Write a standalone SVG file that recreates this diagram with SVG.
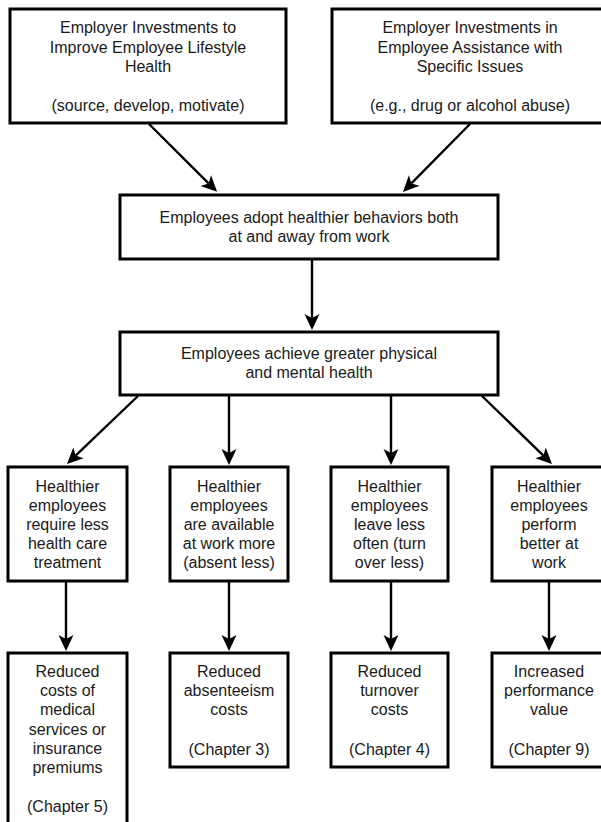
<svg xmlns="http://www.w3.org/2000/svg" width="601" height="822" viewBox="0 0 601 822">
<style>
.box{fill:#fff;stroke:#000;stroke-width:3}
.t{font-family:"Liberation Sans",Arial,Helvetica,sans-serif;font-size:16px;fill:#1a1a1a;text-anchor:middle}
.c{stroke:#000;stroke-width:2.4;fill:none;marker-end:url(#ah)}
</style>
<defs>
<marker id="ah" markerUnits="userSpaceOnUse" markerWidth="17" markerHeight="15" refX="4" refY="7.5" orient="auto" overflow="visible">
<path d="M0,0 L16,7.5 L0,15 L4,7.5 z" fill="#000"/>
</marker>
</defs>
<rect width="601" height="822" fill="#fff"/>
<g id="connectors">
<line class="c" x1="149" y1="124" x2="208.6" y2="183.4"/>
<line class="c" x1="470" y1="124" x2="411.4" y2="183.4"/>
<line class="c" x1="312" y1="260" x2="312" y2="318"/>
<line class="c" x1="138" y1="396" x2="75.6" y2="455.6"/>
<line class="c" x1="229" y1="396" x2="229" y2="453"/>
<line class="c" x1="391" y1="396" x2="391" y2="453"/>
<line class="c" x1="482" y1="396" x2="543.4" y2="455.6"/>
<line class="c" x1="66" y1="582" x2="66" y2="639"/>
<line class="c" x1="229" y1="582" x2="229" y2="639"/>
<line class="c" x1="391" y1="582" x2="391" y2="639"/>
<line class="c" x1="549" y1="582" x2="549" y2="639"/>
</g>
<g id="top-left">
<rect class="box" x="10" y="9" width="276" height="114"/>
<text class="t" x="148" y="33">Employer Investments to</text>
<text class="t" x="148" y="52.5">Improve Employee Lifestyle</text>
<text class="t" x="148" y="72">Health</text>
<text class="t" x="148" y="111">(source, develop, motivate)</text>
</g>
<g id="top-right">
<rect class="box" x="332" y="9" width="276" height="114"/>
<text class="t" x="470" y="33">Employer Investments in</text>
<text class="t" x="470" y="52.5">Employee Assistance with</text>
<text class="t" x="470" y="72">Specific Issues</text>
<text class="t" x="470" y="111">(e.g., drug or alcohol abuse)</text>
</g>
<g id="adopt">
<rect class="box" x="120" y="195" width="378" height="64"/>
<text class="t" x="309" y="223">Employees adopt healthier behaviors both</text>
<text class="t" x="309" y="242">at and away from work</text>
</g>
<g id="achieve">
<rect class="box" x="120" y="332" width="378" height="63"/>
<text class="t" x="309" y="358.5">Employees achieve greater physical</text>
<text class="t" x="309" y="377.5">and mental health</text>
</g>
<g id="require-less">
<rect class="box" x="8" y="467" width="119" height="114"/>
<text class="t" x="67.5" y="492">Healthier</text>
<text class="t" x="67.5" y="511">employees</text>
<text class="t" x="67.5" y="530">require less</text>
<text class="t" x="67.5" y="549">health care</text>
<text class="t" x="67.5" y="568">treatment</text>
</g>
<g id="available">
<rect class="box" x="170" y="467" width="118" height="114"/>
<text class="t" x="229" y="492">Healthier</text>
<text class="t" x="229" y="511">employees</text>
<text class="t" x="229" y="530">are available</text>
<text class="t" x="229" y="549">at work more</text>
<text class="t" x="229" y="568">(absent less)</text>
</g>
<g id="leave-less">
<rect class="box" x="331" y="467" width="117" height="114"/>
<text class="t" x="389.5" y="492">Healthier</text>
<text class="t" x="389.5" y="511">employees</text>
<text class="t" x="389.5" y="530">leave less</text>
<text class="t" x="389.5" y="549">often (turn</text>
<text class="t" x="389.5" y="568">over less)</text>
</g>
<g id="perform">
<rect class="box" x="492" y="467" width="114" height="114"/>
<text class="t" x="549" y="492">Healthier</text>
<text class="t" x="549" y="511">employees</text>
<text class="t" x="549" y="530">perform</text>
<text class="t" x="549" y="549">better at</text>
<text class="t" x="549" y="568">work</text>
</g>
<g id="medical-costs">
<rect class="box" x="8" y="653" width="119" height="180"/>
<text class="t" x="67.5" y="677">Reduced</text>
<text class="t" x="67.5" y="696">costs of</text>
<text class="t" x="67.5" y="715">medical</text>
<text class="t" x="67.5" y="734.5">services or</text>
<text class="t" x="67.5" y="753.5">insurance</text>
<text class="t" x="67.5" y="773">premiums</text>
<text class="t" x="67.5" y="811.5">(Chapter 5)</text>
</g>
<g id="absenteeism">
<rect class="box" x="170" y="653" width="118" height="114"/>
<text class="t" x="229" y="677">Reduced</text>
<text class="t" x="229" y="696">absenteeism</text>
<text class="t" x="229" y="715">costs</text>
<text class="t" x="229" y="754.5">(Chapter 3)</text>
</g>
<g id="turnover">
<rect class="box" x="331" y="653" width="117" height="114"/>
<text class="t" x="389.5" y="677">Reduced</text>
<text class="t" x="389.5" y="696">turnover</text>
<text class="t" x="389.5" y="715">costs</text>
<text class="t" x="389.5" y="754.5">(Chapter 4)</text>
</g>
<g id="performance-value">
<rect class="box" x="492" y="653" width="114" height="114"/>
<text class="t" x="549" y="677">Increased</text>
<text class="t" x="549" y="696">performance</text>
<text class="t" x="549" y="715">value</text>
<text class="t" x="549" y="754.5">(Chapter 9)</text>
</g>
</svg>
